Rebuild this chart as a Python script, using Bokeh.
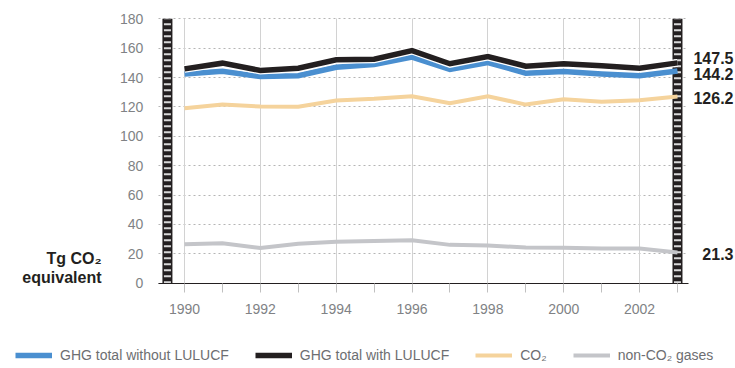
from bokeh.plotting import figure
from bokeh.models import (Range1d, LinearAxis, FixedTicker, Grid, Legend,
                          LegendItem, Label, ColumnDataSource)
from bokeh.core.properties import value
from bokeh.embed import file_html
from bokeh.resources import INLINE

# ---------------- data ----------------
years = list(range(1990, 2004))
ghg_without_lulucf = [142.5, 144.3, 140.7, 141.2, 147.0, 148.9, 153.9,
                      145.5, 150.2, 143.0, 144.1, 142.5, 141.2, 144.5]
ghg_with_lulucf = [145.9, 149.8, 144.8, 146.4, 152.1, 152.5, 158.4,
                   149.4, 154.3, 147.7, 149.4, 148.0, 146.4, 150.0]
co2 = [119.1, 121.6, 120.3, 120.1, 124.4, 125.5, 127.3,
       122.5, 127.3, 121.6, 125.3, 123.5, 124.6, 127.1]
non_co2 = [26.5, 27.2, 23.9, 26.8, 28.2, 28.7, 29.3,
           26.1, 25.7, 24.3, 24.1, 23.6, 23.6, 20.9]

series_names = ["GHG total without LULUCF", "GHG total with LULUCF",
                "CO\u2082", "non-CO\u2082 gases"]
end_labels = ["147.5", "144.2", "126.2", "21.3"]

y_ticks = [0, 20, 40, 60, 80, 100, 120, 140, 160, 180]
x_ticks = [1990, 1992, 1994, 1996, 1998, 2000, 2002]
x_minor_ticks = [1991, 1993, 1995, 1997, 1999, 2001, 2003]
x_tick_labels = ["1990", "1992", "1994", "1996", "1998", "2000", "2002"]
unit_line1 = "Tg CO\u2082"
unit_line2 = "equivalent"

# ---------------- styles ----------------
BLUE = "#4a8fd0"
BLACK = "#231f20"
ORANGE = "#f5d39c"
GRAY = "#c4c5c9"
TICK_TEXT = "#808285"
LEGEND_TEXT = "#6d6e71"
FONT = "Liberation Sans"

X0, X1 = 1985.148, 2004.53     # visible x range
Y0, Y1 = -58.07, 192.46        # visible y range
AX0, AX1 = 1989.31, 2003.3     # extent of the axis line / horizontal grid
LEFT_BAR_X = years[0] - 0.45
RIGHT_BAR_X = years[-1]

p = figure(width=735, height=368, x_range=Range1d(X0, X1),
           y_range=Range1d(Y0, Y1), x_axis_type=None, y_axis_type=None,
           output_backend="svg", toolbar_location=None, min_border=0)
p.outline_line_color = None
p.background_fill_color = "white"
p.border_fill_color = "white"

# grids
ygrid = Grid(dimension=1, ticker=FixedTicker(ticks=y_ticks),
             grid_line_color="#b5b5b5", grid_line_dash="2 3",
             grid_line_width=1, cross_bounds=(AX0, AX1))
xgrid = Grid(dimension=0, ticker=FixedTicker(ticks=x_ticks),
             grid_line_color="#d2d2d2", grid_line_width=1,
             cross_bounds=(y_ticks[0], y_ticks[-1]))
p.add_layout(ygrid, "center")
p.add_layout(xgrid, "center")

# axes
xaxis = LinearAxis(fixed_location=0, bounds=(AX0, AX1),
                   ticker=FixedTicker(ticks=x_ticks, minor_ticks=x_minor_ticks),
                   major_label_overrides=dict(zip(x_ticks, x_tick_labels)),
                   axis_line_color=BLACK, axis_line_width=1.2,
                   major_tick_in=0, major_tick_out=9,
                   minor_tick_in=0, minor_tick_out=9,
                   major_tick_line_color="#c0c0c0",
                   minor_tick_line_color="#c0c0c0",
                   major_label_standoff=12,
                   major_label_text_font=FONT,
                   major_label_text_font_size="14px",
                   major_label_text_color=TICK_TEXT)
p.add_layout(xaxis, "below")

yaxis = LinearAxis(fixed_location=AX0, ticker=FixedTicker(ticks=y_ticks),
                   axis_line_color=None, major_tick_line_color=None,
                   minor_tick_line_color=None, major_tick_in=0,
                   major_tick_out=0, major_label_standoff=15,
                   major_label_text_font=FONT,
                   major_label_text_font_size="14px",
                   major_label_text_color=TICK_TEXT)
p.add_layout(yaxis, "left")

# striped vertical bars marking the first and last year
for bx in (LEFT_BAR_X, RIGHT_BAR_X):
    p.segment(x0=[bx], y0=[y_ticks[0]], x1=[bx], y1=[y_ticks[-1]],
              line_color=BLACK, line_width=10)
    p.segment(x0=[bx], y0=[y_ticks[0]], x1=[bx], y1=[y_ticks[-1]],
              line_color="#d9d9d9", line_width=7, line_dash="2 4")

# series
r_gray = p.line(years, non_co2, line_color=GRAY, line_width=4,
                line_join="miter")
r_orange = p.line(years, co2, line_color=ORANGE, line_width=4,
                  line_join="miter")
r_blue = p.line(years, ghg_without_lulucf, line_color=BLUE, line_width=5.5,
                line_join="miter")
p.line(years, ghg_with_lulucf, line_color="white", line_width=8,
       line_join="miter")
r_black = p.line(years, ghg_with_lulucf, line_color=BLACK, line_width=5.5,
                 line_join="miter")

# end-of-line value labels
last_vals = [ghg_with_lulucf[-1], ghg_without_lulucf[-1], co2[-1], non_co2[-1]]
lab_src = ColumnDataSource(dict(x=[years[-1]] * 4, y=last_vals,
                                text=end_labels, dy=[-5, 3, 1, 1]))
p.text(x="x", y="y", text="text", y_offset="dy", x_offset=56,
       source=lab_src, text_align="right", text_baseline="middle",
       text_font=value(FONT), text_font_style="bold",
       text_font_size="16px", text_color=BLACK)

# unit label
for txt, yy in ((unit_line1, 110.3), (unit_line2, 91.3)):
    p.add_layout(Label(x=101, y=yy, x_units="screen", y_units="screen",
                       text=txt, text_align="right", text_baseline="middle",
                       text_font=FONT, text_font_style="bold",
                       text_font_size="16px", text_color=BLACK))

# legend
legend = Legend(items=[LegendItem(label=series_names[0], renderers=[r_blue]),
                       LegendItem(label=series_names[1], renderers=[r_black]),
                       LegendItem(label=series_names[2], renderers=[r_orange]),
                       LegendItem(label=series_names[3], renderers=[r_gray])],
                orientation="horizontal", location=(15, 3),
                glyph_width=37, glyph_height=20, label_height=20,
                label_standoff=8, spacing=26, padding=0, margin=0,
                background_fill_alpha=0, border_line_alpha=0,
                label_text_font=FONT, label_text_font_size="14px",
                label_text_color=LEGEND_TEXT)
p.add_layout(legend, "center")

open("out.html", "w").write(file_html(p, INLINE))
